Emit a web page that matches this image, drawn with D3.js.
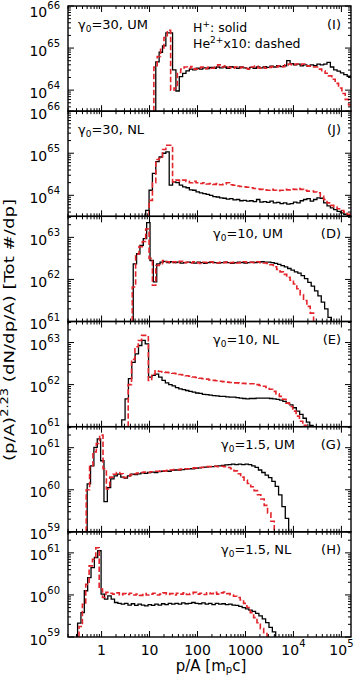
<!DOCTYPE html>
<meta charset="utf-8">
<style>
body { margin: 0; background: #fff; }
svg { display: block; font-family: 'DejaVu Sans', sans-serif; }
</style>
<body>
<div id="chart"></div>

<script src="https://d3js.org/d3.v7.min.js"></script>
<script>
// width of one histogram bin, in decades of p/A
var binWidth = 0.07;

// panels, top to bottom
var panelNames = ["I", "J", "D", "E", "G", "H"];
var panelGamma = ["30", "30", "10", "10", "1.5", "1.5"];
var panelModel = ["UM", "NL", "UM", "NL", "UM", "NL"];
// y range of each panel (log10)
var panelYMin = [63.5, 63.5, 61, 61, 59, 59];
var panelYMax = [66, 66, 63.5, 63.5, 61.5, 61.5];

// log10(p/A) of the first bin edge of each series
var startH  = [1.13, 0.92, 0.66, 0.42, -0.30, -0.50];
var startHe = [1.09, 0.99, 0.64, 0.555, -0.32, -0.47];

// x tick labels
var xTickBase = ["1", "10", "100", "1000", "10", "10"];
var xTickSup  = ["", "", "", "", "4", "5"];
var xTickExp  = [0, 1, 2, 3, 4, 5];

// log10 of (p/A)^2.23 dN/dp/A in each bin, H+ (solid)
var hI = [64.67, 64.9, 65.05, 65.36, 65.36, 64.48, 63.98, 64.32, 64.4, 64.46,
  64.5, 64.48, 64.52, 64.5, 64.53, 64.51, 64.54, 64.52, 64.55, 64.53,
  64.55, 64.52, 64.56, 64.54, 64.52, 64.55, 64.53, 64.51, 64.54, 64.52,
  64.55, 64.53, 64.56, 64.54, 64.57, 64.55, 64.58, 64.56, 64.58, 64.7,
  64.63, 64.6, 64.62, 64.58, 64.6, 64.57, 64.6, 64.58, 64.62, 64.6,
  64.62, 64.66, 64.55, 64.48, 64.45, 64.41, 64.37, 64.33, 64.3];
var hJ = [63.64, 64.12, 64.52, 64.8, 64.91, 65.0, 65.03, 64.24, 64.32, 64.3,
  64.24, 64.2, 64.18, 64.13, 64.12, 64.08, 64.06, 64.04, 64.02, 64.0,
  63.97, 63.96, 63.94, 63.93, 63.91, 63.92, 63.89, 63.9, 63.87, 63.88,
  63.86, 63.87, 63.85, 63.9, 63.84, 63.85, 63.83, 63.86, 63.82, 63.83,
  63.8, 63.82, 63.79, 63.8, 63.84, 63.82, 63.87, 63.9, 63.92, 63.86,
  63.9, 63.94, 63.93, 63.82, 63.75, 63.7, 63.66, 63.62, 63.58, 63.55,
  63.52];
var hD = [62.37, 62.61, 62.81, 62.97, 63.35, 62.45, 61.94, 62.37, 62.41, 62.43,
  62.4, 62.42, 62.4, 62.41, 62.39, 62.4, 62.41, 62.4, 62.39, 62.41,
  62.4, 62.38, 62.4, 62.41, 62.4, 62.39, 62.4, 62.41, 62.4, 62.38,
  62.4, 62.41, 62.4, 62.39, 62.4, 62.41, 62.4, 62.41, 62.42, 62.41,
  62.41, 62.4, 62.38, 62.36, 62.33, 62.3, 62.26, 62.22, 62.18, 62.15,
  62.09, 62.02, 61.93, 61.84, 61.73, 61.61, 61.46, 61.3, 61.1];
var hE = [61.16, 61.66, 62.14, 62.53, 62.73, 62.93, 63.05, 62.97, 62.18, 62.22,
  62.25, 62.18, 62.1, 62.04, 62.0, 61.97, 61.93, 61.9, 61.88, 61.86,
  61.84, 61.82, 61.8, 61.79, 61.77, 61.76, 61.75, 61.74, 61.73, 61.72,
  61.72, 61.71, 61.7, 61.7, 61.69, 61.68, 61.67, 61.66, 61.67, 61.67,
  61.68, 61.68, 61.68, 61.68, 61.67, 61.66, 61.65, 61.63, 61.6, 61.56,
  61.52, 61.45, 61.37, 61.29, 61.2, 61.11, 61.03];
var hG = [60.14, 60.57, 61.01, 61.21, 60.69, 59.72, 60.05, 60.26, 60.33, 60.37,
  60.3, 60.28, 60.33, 60.37, 60.36, 60.38, 60.4, 60.39, 60.41, 60.42,
  60.41, 60.43, 60.44, 60.45, 60.44, 60.46, 60.47, 60.47, 60.48, 60.49,
  60.5, 60.5, 60.51, 60.52, 60.53, 60.54, 60.55, 60.55, 60.56, 60.57,
  60.58, 60.59, 60.6, 60.61, 60.6, 60.61, 60.6, 60.61, 60.6, 60.57,
  60.53, 60.47, 60.41, 60.35, 60.29, 60.2, 60.08, 59.88, 59.6, 59.32];
var hH = [59.33, 59.58, 60.1, 60.41, 60.65, 60.89, 61.05, 60.02, 59.9, 59.98,
  59.9, 59.82, 59.8, 59.78, 59.8, 59.76, 59.79, 59.75, 59.78, 59.76,
  59.74, 59.77, 59.75, 59.78, 59.76, 59.79, 59.77, 59.8, 59.78, 59.8,
  59.78, 59.81, 59.79, 59.8, 59.82, 59.8, 59.79, 59.81, 59.78, 59.8,
  59.77, 59.8, 59.78, 59.79, 59.77, 59.78, 59.76, 59.75, 59.73, 59.7,
  59.67, 59.64, 59.61, 59.56, 59.5, 59.43, 59.34, 59.23, 59.12];

// same for He2+ x10 (dashed)
var heI = [64.55, 64.8, 65.0, 65.25, 65.42, 64.0, 64.05, 64.42, 64.5, 64.55,
  64.52, 64.56, 64.5, 64.53, 64.55, 64.51, 64.54, 64.52, 64.55, 64.6,
  64.55, 64.58, 64.54, 64.52, 64.55, 64.53, 64.55, 64.52, 64.5, 64.55,
  64.57, 64.53, 64.55, 64.52, 64.54, 64.56, 64.55, 64.58, 64.56, 64.6,
  64.62, 64.6, 64.62, 64.6, 64.62, 64.58, 64.57, 64.55, 64.55, 64.5,
  64.46, 64.4, 64.34, 64.26, 64.16, 64.05, 63.92, 63.78, 63.65, 63.55];
var heJ = [63.88, 64.3, 64.85, 64.88, 65.09, 65.19, 65.19, 64.32, 64.36, 64.34,
  64.36, 64.33, 64.3, 64.33, 64.3, 64.28, 64.3, 64.27, 64.28, 64.26,
  64.28, 64.25, 64.27, 64.3, 64.25, 64.24, 64.22, 64.21, 64.2, 64.19,
  64.18, 64.16, 64.15, 64.14, 64.13, 64.12, 64.14, 64.12, 64.11, 64.12,
  64.14, 64.13, 64.15, 64.14, 64.16, 64.14, 64.12, 64.1, 64.1, 64.08,
  64.06, 63.98, 63.9, 63.82, 63.76, 63.72, 63.68, 63.64, 63.6, 63.55,
  63.5];
var heD = [61.82, 62.6, 62.78, 62.9, 63.2, 62.5, 61.86, 62.33, 62.35, 62.45,
  62.42, 62.4, 62.42, 62.4, 62.43, 62.4, 62.41, 62.39, 62.42, 62.4,
  62.38, 62.41, 62.4, 62.42, 62.4, 62.39, 62.41, 62.4, 62.42, 62.4,
  62.41, 62.39, 62.4, 62.42, 62.4, 62.41, 62.4, 62.42, 62.4, 62.39,
  62.38, 62.35, 62.3, 62.24, 62.18, 62.12, 62.05, 61.98, 61.89, 61.78,
  61.64, 61.5, 61.36, 61.2];
var heE = [62.0, 62.6, 62.9, 63.05, 63.17, 63.17, 62.1, 62.25, 62.33, 62.31,
  62.3, 62.29, 62.28, 62.27, 62.26, 62.24, 62.23, 62.21, 62.2, 62.18,
  62.17, 62.15, 62.14, 62.13, 62.11, 62.1, 62.09, 62.08, 62.07, 62.06,
  62.05, 62.04, 62.04, 62.03, 62.03, 62.02, 62.02, 62.02, 62.0, 61.98,
  61.96, 61.93, 61.89, 61.84, 61.78, 61.72, 61.65, 61.56, 61.48, 61.37,
  61.25, 61.13, 61.03];
var heG = [60.0, 60.55, 60.9, 61.1, 61.3, 60.5, 60.02, 60.3, 60.37, 60.41,
  60.38, 60.29, 60.32, 60.36, 60.38, 60.4, 60.41, 60.42, 60.41, 60.43,
  60.44, 60.44, 60.45, 60.45, 60.46, 60.47, 60.48, 60.48, 60.49, 60.5,
  60.5, 60.51, 60.52, 60.53, 60.53, 60.54, 60.55, 60.55, 60.56, 60.55,
  60.56, 60.55, 60.53, 60.5, 60.45, 60.38, 60.3, 60.23, 60.15, 60.07,
  59.98, 59.88, 59.78, 59.63, 59.45, 59.25];
var heH = [59.25, 59.78, 60.25, 60.69, 60.85, 61.12, 60.14, 59.94, 60.06, 60.04,
  60.02, 60.05, 60.0, 60.03, 60.01, 60.04, 60.0, 60.02, 59.99, 60.03,
  60.0, 60.02, 60.04, 60.0, 60.02, 60.05, 60.01, 60.03, 60.0, 60.04,
  60.02, 60.05, 60.01, 60.03, 60.06, 60.02, 60.04, 60.01, 60.05, 60.03,
  60.06, 60.02, 60.05, 60.07, 60.03, 60.0, 59.97, 59.94, 59.88, 59.8,
  59.7, 59.58, 59.46, 59.34, 59.2, 59.08];

var hSeries = [hI, hJ, hD, hE, hG, hH];
var heSeries = [heI, heJ, heD, heE, heG, heH];

// layout
var W = 356, H = 677;
var left = 68, right = 351, top0 = 6, bottom0 = 637;
var panelH = (bottom0 - top0) / panelNames.length;
var majorLen = 6, minorLen = 3;

var svg = d3.select("#chart").append("svg")
    .attr("width", W)
    .attr("height", H);

var x = d3.scaleLog()
    .domain([Math.pow(10, -0.7), Math.pow(10, 5.2)])
    .range([left, right]);

// minor + major log ticks inside a domain
function logTicks(lo, hi) {
  var t = [];
  for (var e = Math.floor(lo) - 1; e <= Math.ceil(hi); e++) {
    for (var m = 1; m < 10; m++) {
      var l = e + Math.log10(m);
      if (l >= lo - 1e-9 && l <= hi + 1e-9) t.push({v: Math.pow(10, l), major: m === 1, e: e});
    }
  }
  return t;
}

function stepLine(vals, lo, y) {
  var yb = y.range()[0];
  var pts = [[x(Math.pow(10, lo)), yb]];
  vals.forEach(function(v, i) {
    var yy = y(Math.pow(10, v));
    pts.push([x(Math.pow(10, lo + i * binWidth)), yy]);
    pts.push([x(Math.pow(10, lo + (i + 1) * binWidth)), yy]);
  });
  pts.push([x(Math.pow(10, lo + vals.length * binWidth)), yb]);
  return d3.line()(pts);
}

var xt = logTicks(-0.7, 5.2);

panelNames.forEach(function(name, k) {
  var y0 = top0 + k * panelH, y1 = y0 + panelH;
  var y = d3.scaleLog()
      .domain([Math.pow(10, panelYMin[k]), Math.pow(10, panelYMax[k])])
      .range([y1, y0])
      .clamp(true);

  var g = svg.append("g");

  g.append("clipPath").attr("id", "clip" + k)
    .append("rect")
      .attr("x", left).attr("y", y0)
      .attr("width", right - left).attr("height", panelH);

  var plot = g.append("g").attr("clip-path", "url(#clip" + k + ")");

  // H+ solid
  plot.append("path")
      .attr("d", stepLine(hSeries[k], startH[k], y))
      .style("fill", "none")
      .style("stroke", "#000")
      .style("stroke-width", "1.3px");

  // He2+ dashed
  plot.append("path")
      .attr("d", stepLine(heSeries[k], startHe[k], y))
      .style("fill", "none")
      .style("stroke", "#e3242b")
      .style("stroke-width", "1.6px")
      .style("stroke-dasharray", "5.5,2.5");

  // frame
  g.append("rect")
      .attr("x", left).attr("y", y0)
      .attr("width", right - left).attr("height", panelH)
      .style("fill", "none")
      .style("stroke", "#000")
      .style("stroke-width", "1.4px");

  // y ticks, both sides, pointing inwards
  var yt = logTicks(panelYMin[k], panelYMax[k]);
  g.selectAll(".ytl")
      .data(yt)
    .enter().append("line")
      .attr("x1", left)
      .attr("x2", function(d) { return left + (d.major ? majorLen : minorLen); })
      .attr("y1", function(d) { return y(d.v); })
      .attr("y2", function(d) { return y(d.v); })
      .style("stroke", "#000").style("stroke-width", "1px");
  g.selectAll(".ytr")
      .data(yt)
    .enter().append("line")
      .attr("x1", right)
      .attr("x2", function(d) { return right - (d.major ? majorLen : minorLen); })
      .attr("y1", function(d) { return y(d.v); })
      .attr("y2", function(d) { return y(d.v); })
      .style("stroke", "#000").style("stroke-width", "1px");

  // x ticks, top and bottom
  g.selectAll(".xtt")
      .data(xt)
    .enter().append("line")
      .attr("x1", function(d) { return x(d.v); })
      .attr("x2", function(d) { return x(d.v); })
      .attr("y1", y0)
      .attr("y2", function(d) { return y0 + (d.major ? majorLen : minorLen); })
      .style("stroke", "#000").style("stroke-width", "1px");
  g.selectAll(".xtb")
      .data(xt)
    .enter().append("line")
      .attr("x1", function(d) { return x(d.v); })
      .attr("x2", function(d) { return x(d.v); })
      .attr("y1", y1)
      .attr("y2", function(d) { return y1 - (d.major ? majorLen : minorLen); })
      .style("stroke", "#000").style("stroke-width", "1px");

  // y tick labels 10^n (the topmost one nudged down to stay on the page)
  var lab = g.selectAll(".ylab")
      .data(yt.filter(function(d) { return d.major; }))
    .enter().append("text")
      .attr("x", 60)
      .attr("y", function(d) { return Math.max(y(d.v) + 7.5, 17); })
      .style("text-anchor", "end")
      .style("font-size", "14px")
      .text("10");
  lab.append("tspan")
      .attr("dy", -8.5)
      .style("font-size", "10px")
      .text(function(d) { return d.e; });

  // panel label, gamma_0 and model
  var leftTitle = k < 2;
  var t = g.append("text")
      .attr("x", leftTitle ? 78 : (k < 4 ? 213 : 221))
      .attr("y", y0 + (k < 2 ? 23 : 22))
      .style("font-size", "13px")
      .text("\u03b3");
  t.append("tspan").attr("dy", 3).style("font-size", "9px").text("0");
  t.append("tspan").attr("dy", -3).text("=" + panelGamma[k] + ", " + panelModel[k]);

  g.append("text")
      .attr("x", 341)
      .attr("y", y0 + (k < 2 ? 23 : 22))
      .style("text-anchor", "end")
      .style("font-size", "13px")
      .text("(" + name + ")");
});

// legend in the top panel
var l1 = svg.append("text").attr("x", 193).attr("y", 31.5).style("font-size", "12.5px").text("H");
l1.append("tspan").attr("dy", -5).style("font-size", "9px").text("+");
l1.append("tspan").attr("dy", 5).text(": solid");
var l2 = svg.append("text").attr("x", 193).attr("y", 47.5).style("font-size", "12.5px").text("He");
l2.append("tspan").attr("dy", -5).style("font-size", "9px").text("2+");
l2.append("tspan").attr("dy", 5).text("x10: dashed");

// x tick labels
xTickExp.forEach(function(e, i) {
  var t = svg.append("text")
      .attr("x", x(Math.pow(10, e)))
      .attr("y", 655)
      .style("text-anchor", "middle")
      .style("font-size", "14px")
      .text(xTickBase[i]);
  if (xTickSup[i]) {
    t.append("tspan").attr("dy", -8).style("font-size", "10px").text(xTickSup[i]);
  }
});

// x axis title
var xl = svg.append("text")
    .attr("x", 211)
    .attr("y", 671)
    .style("text-anchor", "middle")
    .style("font-size", "15px")
    .text("p/A [m");
xl.append("tspan").attr("dy", 2).style("font-size", "10px").text("p");
xl.append("tspan").attr("dy", -2).text("c]");

// y axis title
var yl = svg.append("text")
    .attr("transform", "translate(14,330) rotate(-90)")
    .attr("textLength", 262)
    .attr("lengthAdjust", "spacingAndGlyphs")
    .style("text-anchor", "middle")
    .style("font-size", "14px")
    .text("(p/A)");
yl.append("tspan").attr("dy", -6).style("font-size", "10px").text("2.23");
yl.append("tspan").attr("dy", 6).text(" (dN/dp/A) [Tot #/dp]");
</script>
</body>
